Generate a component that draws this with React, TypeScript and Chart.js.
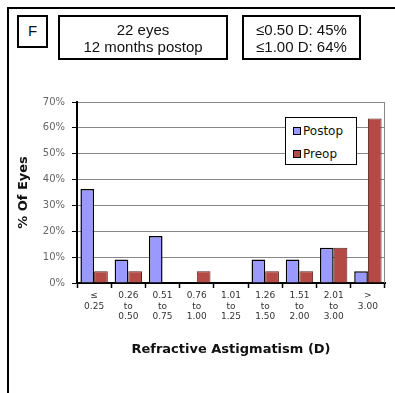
import React, { useEffect, useRef } from "react";
import { Chart, registerables } from "chart.js";

Chart.register(...registerables);

const categories: string[][] = [
  ["≤", "0.25"],
  ["0.26", "to", "0.50"],
  ["0.51", "to", "0.75"],
  ["0.76", "to", "1.00"],
  ["1.01", "to", "1.25"],
  ["1.26", "to", "1.50"],
  ["1.51", "to", "2.00"],
  ["2.01", "to", "3.00"],
  [">", "3.00"],
];
const postopValues = [36.4, 9.1, 18.2, 0, 0, 9.1, 9.1, 13.6, 4.5];
const preopValues = [4.5, 4.5, 0, 4.5, 0, 4.5, 4.5, 13.6, 63.6];
const seriesNames = ["Postop", "Preop"];
const panelLabel = "F";
const infoLines = ["22 eyes", "12 months postop"];
const statLines = ["≤0.50 D: 45%", "≤1.00 D: 64%"];
const yTitle = "% Of Eyes";
const xTitle = "Refractive Astigmatism (D)";
const yMax = 70;
const yStep = 10;

const BLUE = "#9999ff";
const RED = "#b34a45";

const frameRight = {
  id: "frameRight",
  beforeDatasetsDraw(chart: any) {
    const { ctx, chartArea } = chart;
    ctx.save();
    ctx.strokeStyle = "#888";
    ctx.lineWidth = 1;
    ctx.beginPath();
    ctx.moveTo(chartArea.right - 0.5, chartArea.top);
    ctx.lineTo(chartArea.right - 0.5, chartArea.bottom);
    ctx.stroke();
    ctx.restore();
  },
};

export default function App() {
  const ref = useRef<HTMLCanvasElement>(null);

  useEffect(() => {
    document.body.style.margin = "0";
    const canvas = ref.current!;
    const chart = new Chart(canvas, {
      type: "bar",
      data: {
        labels: categories,
        datasets: [
          {
            label: seriesNames[0],
            data: postopValues,
            backgroundColor: BLUE,
            borderColor: "#000",
            borderWidth: 1.5,
            categoryPercentage: 0.8,
            barPercentage: 1.0,
          },
          {
            label: seriesNames[1],
            data: preopValues,
            backgroundColor: RED,
            borderColor: "#5a1f1c",
            borderWidth: 1,
            categoryPercentage: 0.8,
            barPercentage: 1.0,
          },
        ],
      },
      options: {
        animation: false,
        responsive: false,
        maintainAspectRatio: false,
        layout: { padding: { top: 102, right: 10, bottom: 36, left: 0 } },
        plugins: {
          legend: { display: false },
          tooltip: { enabled: false },
          title: { display: false },
        },
        scales: {
          x: {
            afterFit(scale: any) {
              scale.height = 74;
            },
            grid: {
              display: true,
              drawOnChartArea: false,
              offset: true,
              tickLength: 5,
              tickColor: "#000",
              tickWidth: 1.5,
            },
            border: { display: true, color: "#000", width: 2 },
            ticks: {
              autoSkip: false,
              maxRotation: 0,
              minRotation: 0,
              padding: 2,
              color: "#333",
              font: { family: "DejaVu Sans", size: 9 },
            },
            title: {
              display: true,
              text: xTitle,
              color: "#111",
              font: { family: "DejaVu Sans", size: 13, weight: "bold" },
              padding: { top: 0, bottom: 0 },
            },
          },
          y: {
            min: 0,
            max: yMax,
            afterFit(scale: any) {
              scale.width = 77;
            },
            grid: {
              color: "#888",
              lineWidth: 1,
              tickLength: 5,
              tickColor: "#000",
            },
            border: { display: true, color: "#000", width: 2 },
            ticks: {
              stepSize: yStep,
              padding: 7,
              color: "#666",
              font: { family: "DejaVu Sans", size: 10 },
              callback: (v: any) => `${v}%`,
            },
            title: {
              display: true,
              text: yTitle,
              color: "#111",
              font: { family: "DejaVu Sans", size: 13, weight: "bold" },
              padding: { top: 16, bottom: 0 },
            },
          },
        },
      },
      plugins: [frameRight],
    } as any);
    return () => chart.destroy();
  }, []);

  const boxStyle: React.CSSProperties = {
    position: "absolute",
    border: "2px solid #000",
    background: "#fff",
    boxSizing: "border-box",
    fontFamily: "'Liberation Sans', Arial, sans-serif",
    fontSize: 15,
    lineHeight: "17px",
    color: "#111",
    textAlign: "center",
  };

  return (
    <div style={{ position: "absolute", left: 0, top: 0, width: 395, height: 393, background: "#fff", overflow: "hidden" }}>
      <div
        style={{
          position: "absolute",
          left: 7,
          top: 7,
          width: 400,
          height: 400,
          borderLeft: "2px solid #000",
          borderTop: "2px solid #000",
        }}
      />
      <canvas ref={ref} width={395} height={393} style={{ position: "absolute", left: 0, top: 0, width: 395, height: 393 }} />
      <div style={{ ...boxStyle, left: 17, top: 15, width: 31, height: 33, paddingTop: 5 }}>{panelLabel}</div>
      <div style={{ ...boxStyle, left: 58, top: 15, width: 170, height: 45, paddingTop: 4 }}>
        {infoLines.map((l, i) => (
          <div key={i}>{l}</div>
        ))}
      </div>
      <div style={{ ...boxStyle, left: 242, top: 15, width: 119, height: 45, paddingTop: 4 }}>
        {statLines.map((l, i) => (
          <div key={i}>{l}</div>
        ))}
      </div>
      <div
        style={{
          position: "absolute",
          left: 285,
          top: 117,
          width: 72,
          height: 48,
          boxSizing: "border-box",
          border: "1.5px solid #000",
          background: "#fff",
          fontFamily: "'DejaVu Sans', sans-serif",
          fontSize: 12,
          color: "#111",
          paddingLeft: 7,
          paddingTop: 1,
        }}
      >
        {seriesNames.map((n, i) => (
          <div key={n} style={{ display: "flex", alignItems: "center", height: 23 }}>
            <span
              style={{
                display: "inline-block",
                width: 6,
                height: 6,
                background: i === 0 ? BLUE : RED,
                border: "1px solid #000",
                marginRight: 2,
              }}
            />
            <span>{n}</span>
          </div>
        ))}
      </div>
    </div>
  );
}
